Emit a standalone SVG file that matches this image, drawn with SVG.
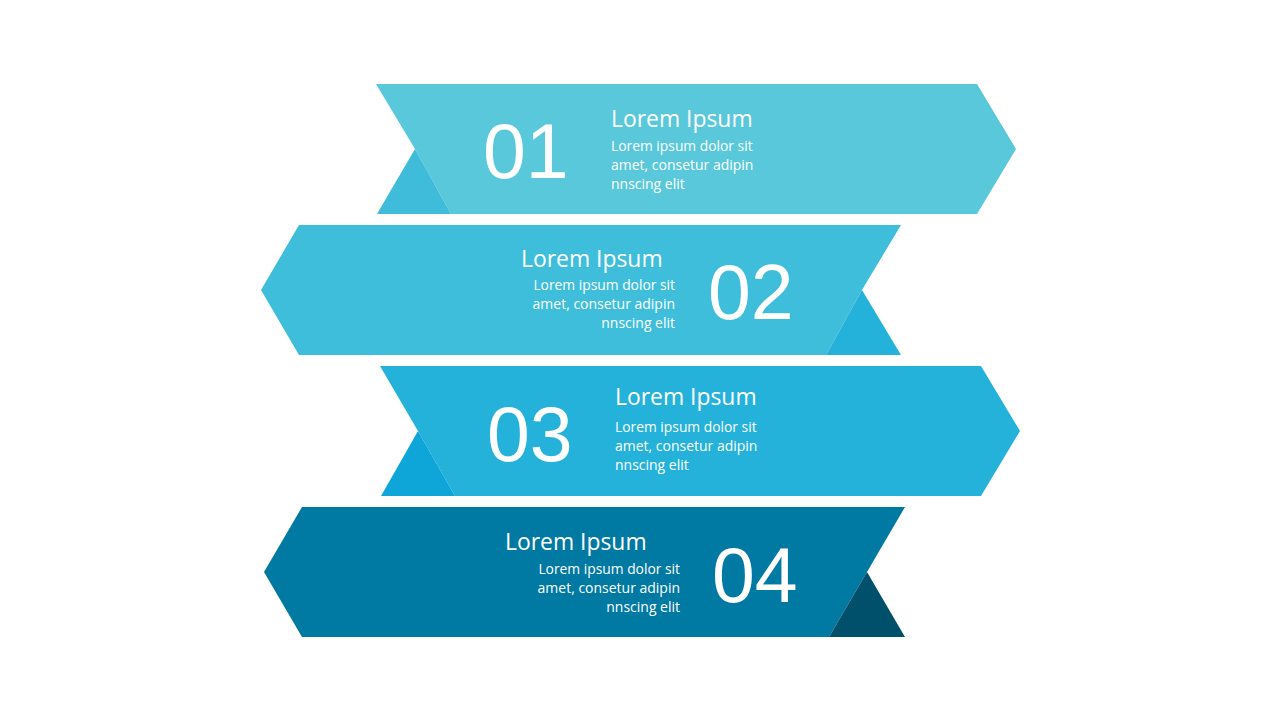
<svg xmlns="http://www.w3.org/2000/svg" width="1280" height="720" viewBox="0 0 1280 720">
<style>
.num{font-family:"Liberation Sans",Arial,sans-serif;font-size:77px;fill:#ffffff}
.ttl{font-family:"Open Sans","Noto Sans",sans-serif;font-size:24px;fill:#ffffff}
.body{font-family:"Open Sans","Noto Sans",sans-serif;font-size:14.5px;fill:#ffffff}
.end{text-anchor:end}
</style>
<rect width="1280" height="720" fill="#ffffff"/>
<g id="step1">
<polygon points="376,84 977,84 1016,149 977,214 451,214 415,149" fill="#59C8DB"/>
<polygon points="415,149 451,214 377,214" fill="#3EBCD9"/>
<text class="num" x="483" y="178">01</text>
<text class="ttl" x="611" y="127" textLength="141.6" lengthAdjust="spacingAndGlyphs">Lorem Ipsum</text>
<text class="body" x="611" y="151" textLength="141.6" lengthAdjust="spacingAndGlyphs">Lorem ipsum dolor sit</text>
<text class="body" x="611" y="170" textLength="142.4" lengthAdjust="spacingAndGlyphs">amet, consetur adipin</text>
<text class="body" x="611" y="189" textLength="73.7" lengthAdjust="spacingAndGlyphs">nnscing elit</text>
</g>
<g id="step2">
<polygon points="299,225 901,225 862,290 826,355 299,355 261,290" fill="#3EBEDB"/>
<polygon points="862,290 901,355 826,355" fill="#24B2DA"/>
<text class="num" x="708" y="319">02</text>
<text class="ttl" x="521" y="267" textLength="141.6" lengthAdjust="spacingAndGlyphs">Lorem Ipsum</text>
<text class="body end" x="675" y="290" textLength="141.6" lengthAdjust="spacingAndGlyphs">Lorem ipsum dolor sit</text>
<text class="body end" x="675" y="309" textLength="142.4" lengthAdjust="spacingAndGlyphs">amet, consetur adipin</text>
<text class="body end" x="675" y="328" textLength="73.7" lengthAdjust="spacingAndGlyphs">nnscing elit</text>
</g>
<g id="step3">
<polygon points="380,366 981,366 1020,431 981,496 455,496 418,431" fill="#24B2DA"/>
<polygon points="418,431 455,496 381,496" fill="#0EA6D8"/>
<text class="num" x="487" y="461">03</text>
<text class="ttl" x="615" y="404.5" textLength="141.6" lengthAdjust="spacingAndGlyphs">Lorem Ipsum</text>
<text class="body" x="615" y="432" textLength="141.6" lengthAdjust="spacingAndGlyphs">Lorem ipsum dolor sit</text>
<text class="body" x="615" y="451" textLength="142.4" lengthAdjust="spacingAndGlyphs">amet, consetur adipin</text>
<text class="body" x="615" y="470" textLength="73.7" lengthAdjust="spacingAndGlyphs">nnscing elit</text>
</g>
<g id="step4">
<polygon points="302,507 905,507 867,572 829,637 302,637 264,572" fill="#0079A3"/>
<polygon points="867,572 905,637 829,637" fill="#00506B"/>
<text class="num" x="712" y="602">04</text>
<text class="ttl" x="505" y="549.5" textLength="141.6" lengthAdjust="spacingAndGlyphs">Lorem Ipsum</text>
<text class="body end" x="680" y="574" textLength="141.6" lengthAdjust="spacingAndGlyphs">Lorem ipsum dolor sit</text>
<text class="body end" x="680" y="593" textLength="142.4" lengthAdjust="spacingAndGlyphs">amet, consetur adipin</text>
<text class="body end" x="680" y="612" textLength="73.7" lengthAdjust="spacingAndGlyphs">nnscing elit</text>
</g>
<g id="connectors"/>
</svg>
